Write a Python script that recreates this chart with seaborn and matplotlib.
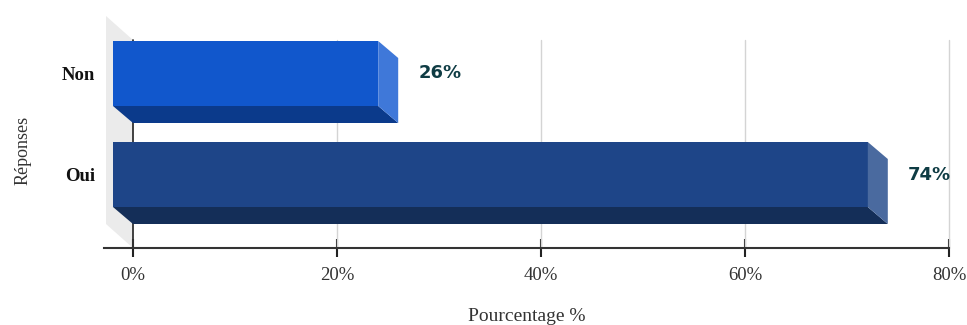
import numpy as np
import matplotlib
matplotlib.use("Agg")
import matplotlib.pyplot as plt
from matplotlib.patches import Polygon
import seaborn as sns

# Survey answers and their share of respondents (%)
categories = ["Non", "Oui"]
percentages = [26, 74]
x_ticks = [0, 20, 40, 60, 80]
x_tick_labels = ["0%", "20%", "40%", "60%", "80%"]

# Face colours for the pseudo-3D bars: front, bottom, side
front_colors = ["#1157CC", "#1E4588"]
bottom_colors = ["#0B3A8B", "#142E58"]
side_colors = ["#3F78D9", "#4A6A9F"]
label_color = "#0F3C44"
text_color = "#333333"

sns.set_style("white")
plt.rcParams["font.family"] = ["Liberation Serif", "DejaVu Serif"]

W, H, DPI = 967, 325, 100
fig = plt.figure(figsize=(W / DPI, H / DPI), dpi=DPI)

# Axes placement in pixels
AX_L, AX_R, AX_T, AX_B = 104, 949, 40, 248
ax = fig.add_axes([AX_L / W, 1 - AX_B / H, (AX_R - AX_L) / W, (AX_B - AX_T) / H])

# Scale: 0..80 % maps onto 133..949 px, rows are 101 px apart
px_per_x = (AX_R - 133) / 80.0
px_per_y = 101.0
xmin = -(133 - AX_L) / px_per_x
ytop = -0.5
ybot = ytop + (AX_B - AX_T) / px_per_y

# Depth of the 3D projection (front face is shifted left and up)
DX = -20 / px_per_x
DY = -17 / px_per_y
WALL_DX = -27 / px_per_x
WALL_DY = -24 / px_per_y
bar_thickness = 65 / px_per_y

sns.barplot(x=percentages, y=categories, hue=categories, palette=front_colors,
            legend=False, width=bar_thickness, orient="h", saturation=1,
            edgecolor="none", ax=ax, zorder=3)

ax.set_xlim(xmin, 80)
ax.set_ylim(ybot, ytop)

# Side wall at x = 0
wall = Polygon([(0, ytop), (0, ybot), (WALL_DX, ybot + WALL_DY), (WALL_DX, ytop + WALL_DY)],
               closed=True, facecolor="#EBEBEB", edgecolor="none", zorder=0, clip_on=False)
ax.add_patch(wall)

# Vertical grid lines
for t in x_ticks:
    if t == 0:
        ax.axvline(t, color=text_color, lw=1.3, zorder=1, clip_on=False)
    else:
        ax.axvline(t, color="#D4D4D4", lw=1.0, zorder=1, clip_on=False)

# Turn each seaborn bar into a box: back face at the data position,
# front face shifted by the depth offset, plus bottom and side faces
for patch in list(ax.patches):
    if patch is wall:
        continue
    x0 = patch.get_x()
    w = patch.get_width()
    y0 = patch.get_y()
    h = patch.get_height()
    x1 = x0 + w
    y1 = y0 + h
    idx = int(round(y0 + h / 2))
    patch.set_x(x0 + DX)
    patch.set_y(y0 + DY)
    bottom = Polygon([(x0 + DX, y1 + DY), (x1 + DX, y1 + DY), (x1, y1), (x0, y1)],
                     closed=True, facecolor=bottom_colors[idx], edgecolor="none",
                     zorder=3, clip_on=False)
    side = Polygon([(x1 + DX, y0 + DY), (x1, y0), (x1, y1), (x1 + DX, y1 + DY)],
                   closed=True, facecolor=side_colors[idx], edgecolor="none",
                   zorder=3, clip_on=False)
    ax.add_patch(bottom)
    ax.add_patch(side)
    patch.set_clip_on(False)

# Value labels
for i, v in enumerate(percentages):
    ax.annotate(f"{v}%", xy=(v, i + DY), xytext=(20, 0), textcoords="offset pixels",
                ha="left", va="center", fontsize=13, fontweight="bold",
                color=label_color, family="DejaVu Sans", zorder=5)

# Axes styling
for s in ["left", "top", "right"]:
    ax.spines[s].set_visible(False)
ax.spines["bottom"].set_color(text_color)
ax.spines["bottom"].set_linewidth(1.5)
ax.spines["bottom"].set_zorder(4)

ax.set_xticks(x_ticks, x_tick_labels)
ax.tick_params(axis="x", bottom=True, direction="inout", length=13, width=1.5,
               color="#222222", labelsize=13.5, labelcolor=text_color, pad=7)
ax.set_yticks(np.arange(len(categories)) + DY, categories)
ax.tick_params(axis="y", left=False, length=0, pad=6.5, labelsize=13.5, labelcolor="#111111")
for lbl in ax.get_yticklabels():
    lbl.set_fontweight("bold")

ax.set_xlabel("Pourcentage %", fontsize=14, color=text_color)
ax.xaxis.set_label_coords(0.5, -0.29)
ax.set_ylabel("Réponses", fontsize=13, color=text_color)
ax.yaxis.set_label_coords(-(AX_L - 32) / (AX_R - AX_L), 0.47)

fig.savefig("out.png", dpi=DPI)
